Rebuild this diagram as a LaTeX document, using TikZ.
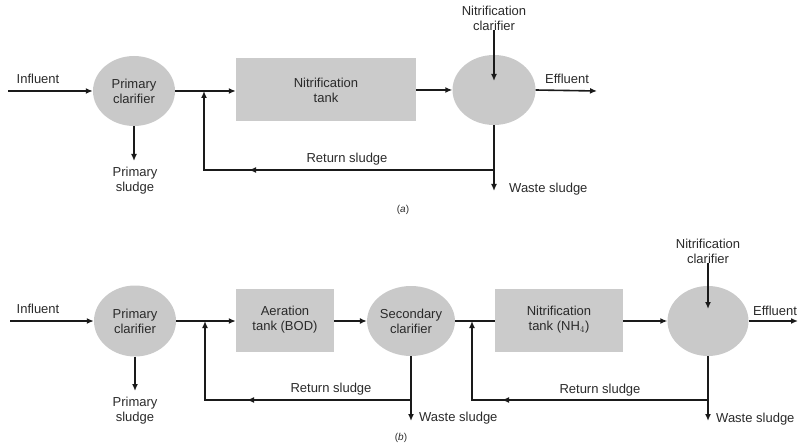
\documentclass[tikz,border=0pt]{standalone}
\usepackage{fontspec}
\setmainfont{Liberation Sans}
\usetikzlibrary{shapes.geometric,arrows.meta,decorations.markings}
\definecolor{clarfill}{HTML}{C9C9C9}
\definecolor{tankfill}{HTML}{CBCBCB}
\definecolor{txt}{HTML}{2A2A2A}
\definecolor{ln}{HTML}{1A1A1A}
\begin{document}
\begin{tikzpicture}[x=1pt,y=-1pt,
  every node/.style={font=\fontsize{13}{15}\selectfont, text=txt},
  clar/.style={ellipse, fill=clarfill, inner sep=0pt, align=center},
  tankbox/.style={rectangle, fill=tankfill, inner sep=0pt, align=center},
  flow/.style={line width=1.6pt, draw=ln},
  tip/.style={-{Latex[length=7pt,width=6pt]}},
  midarrow/.style={postaction={decorate}, decoration={markings, mark=at position #1 with {\arrow{Latex[length=7pt,width=6pt]}}}},
  lbl/.style={align=center, inner sep=0pt},
  subcap/.style={inner sep=0pt, font=\fontsize{10}{12}\selectfont}
]
\useasboundingbox (0,0) rectangle (799,446);

% ---------------- (a) ----------------
\node[clar, minimum width=82pt, minimum height=70pt] (pc1) at (134,91) {Primary\\clarifier};
\node[tankbox, minimum width=180pt, minimum height=63pt] (nt1) at (326,90) {Nitrification\\tank};
\node[clar, minimum width=83pt, minimum height=70pt] (nc1) at (494,90) {};

\node[lbl] (inl1) at (38,79) {Influent};
\node[lbl] (efl1) at (567,79) {Effluent};
\node[lbl] (psl1) at (135,181) {Primary\\sludge};
\node[lbl] (ncl1) at (494,18) {Nitrification\\clarifier};
\node[lbl] (rsl1) at (347,159) {Return sludge};
\node[lbl, anchor=west] (wsl1) at (509,189) {Waste sludge};
\node[subcap] (capa) at (403,210) {(\textit{a})};

\coordinate (in1) at (8,91);
\coordinate (eff1) at (597,91);
\coordinate (ps1) at (134,161);
\coordinate (nf1) at (494,81);
\coordinate (w1) at (494,191);
\coordinate (r1a) at (494,170);
\coordinate (r1b) at (204,170);
\coordinate (j1) at (204,91);

\draw[flow,tip] (in1) -- (pc1.west);
\draw[flow,tip] (pc1.east) -- (pc1.east -| nt1.west);
\draw[flow,tip] (nt1.east |- nc1.west) -- (nc1.west);
\draw[flow,tip] (nc1.east) -- (eff1);
\draw[flow,tip] (pc1.south) -- (ps1);
\draw[flow,tip] (ncl1.south) -- (nf1);
\draw[flow,tip] (nc1.south) -- (w1);
\draw[flow,tip,midarrow=245pt] (r1a) -- (r1b) -- (j1);

% ---------------- (b) ----------------
\node[clar, minimum width=82pt, minimum height=71pt] (pc2) at (135,321) {Primary\\clarifier};
\node[tankbox, minimum width=98pt, minimum height=63pt] (at2) at (285,320) {Aeration\\tank (BOD)};
\node[clar, minimum width=82pt, minimum height=70pt] (sc2) at (411,321) {Secondary\\clarifier};
\node[tankbox, minimum width=128pt, minimum height=63pt] (nt2) at (559,320) {Nitrification\\tank (NH$_4$)};
\node[clar, minimum width=81pt, minimum height=70pt] (nc2) at (708,321) {};

\node[lbl] (inl2) at (38,309) {Influent};
\node[lbl] (efl2) at (775,311) {Effluent};
\node[lbl] (psl2) at (135,411) {Primary\\sludge};
\node[lbl] (ncl2) at (708,251) {Nitrification\\clarifier};
\node[lbl] (rsl2a) at (331,389) {Return sludge};
\node[lbl] (rsl2b) at (600,390) {Return sludge};
\node[lbl, anchor=west] (wsl2a) at (419,418) {Waste sludge};
\node[lbl, anchor=west] (wsl2b) at (716,419) {Waste sludge};
\node[subcap] (capb) at (401,438) {(\textit{b})};

\coordinate (in2) at (10,321);
\coordinate (eff2) at (798,321);
\coordinate (ps2) at (135,391);
\coordinate (nf2) at (708,309);
\coordinate (w2a) at (411,421);
\coordinate (w2b) at (708,421);
\coordinate (r2a) at (411,400);
\coordinate (r2b) at (205,400);
\coordinate (j2a) at (205,321);
\coordinate (r2c) at (708,400);
\coordinate (r2d) at (472,400);
\coordinate (j2b) at (472,321);

\draw[flow,tip] (in2) -- (pc2.west);
\draw[flow,tip] (pc2.east) -- (pc2.east -| at2.west);
\draw[flow,tip] (at2.east |- sc2.west) -- (sc2.west);
\draw[flow] (sc2.east) -- (sc2.east -| nt2.west);
\draw[flow,tip] (nt2.east |- nc2.west) -- (nc2.west);
\draw[flow,tip] (nc2.east) -- (eff2);
\draw[flow,tip] (pc2.south) -- (ps2);
\draw[flow,tip] (ncl2.south) -- (nf2);
\draw[flow,tip] (sc2.south) -- (w2a);
\draw[flow,tip] (nc2.south) -- (w2b);
\draw[flow,tip,midarrow=164pt] (r2a) -- (r2b) -- (j2a);
\draw[flow,tip,midarrow=206pt] (r2c) -- (r2d) -- (j2b);
\end{tikzpicture}
\end{document}
